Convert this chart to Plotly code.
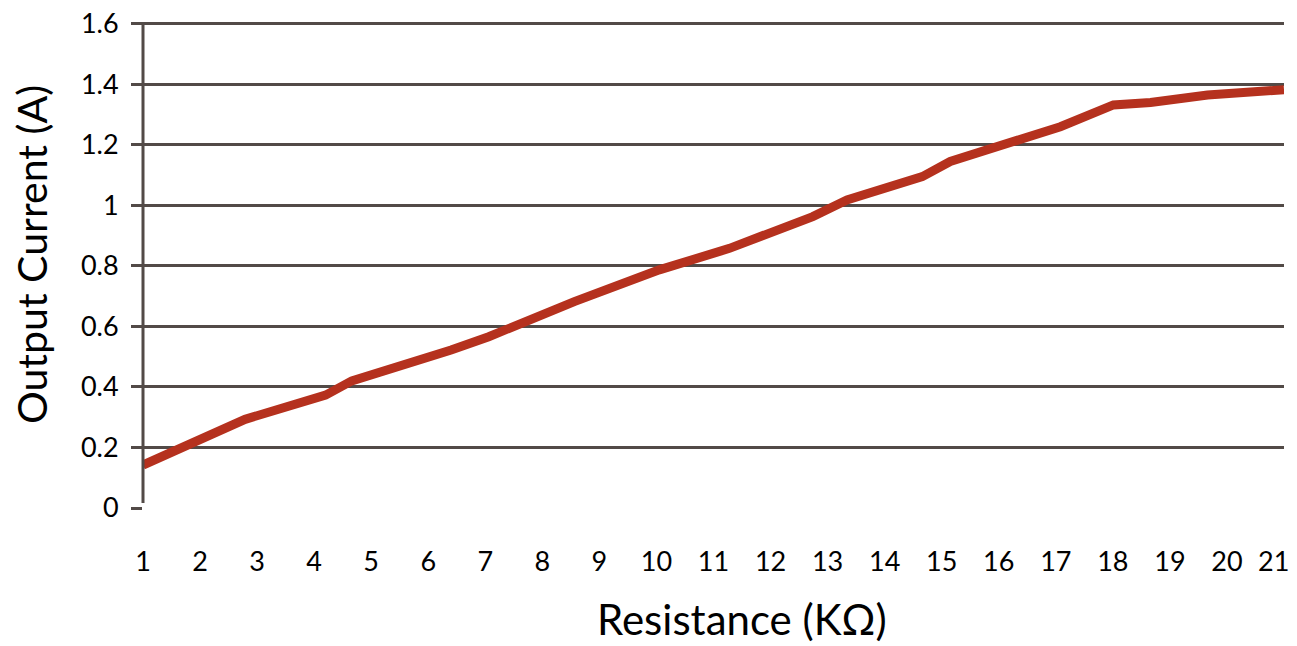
import plotly.graph_objects as go

# Data
resistance_kohm = [1.0, 2.79, 4.2, 4.66, 6.40, 7.06, 8.56, 9.47, 10.05, 11.28,
                   12.74, 13.34, 14.66, 15.15, 16.38, 17.08, 18.01, 18.66, 19.66, 21.0]
output_current_a = [0.142, 0.293, 0.373, 0.420, 0.522, 0.566, 0.682, 0.745, 0.787, 0.858,
                    0.963, 1.018, 1.095, 1.145, 1.219, 1.260, 1.332, 1.340, 1.365, 1.382]

x_tick_values = list(range(1, 22))
x_tick_labels = [str(v) for v in x_tick_values]
x_tick_labels[-1] = x_tick_labels[-1] + "\u00a0\u00a0\u00a0"  # keep last label inside the window
y_tick_values = [0, 0.2, 0.4, 0.6, 0.8, 1.0, 1.2, 1.4, 1.6]
y_tick_labels = ["0", "0.2", "0.4", "0.6", "0.8", "1", "1.2", "1.4", "1.6"]

grid_color = "#524a47"
line_color = "#b5311e"
font_family = "Lato"

W, H = 1297, 646
L, T, R, B = 143, 22, 13, 138
plot_w = W - L - R
plot_h = H - T - B

fig = go.Figure()
fig.add_trace(go.Scatter(
    x=resistance_kohm, y=output_current_a, mode="lines",
    line=dict(color=line_color, width=9), showlegend=False, hoverinfo="skip",
))

fig.update_layout(
    width=W, height=H,
    margin=dict(l=L, r=R, t=T, b=B, autoexpand=False),
    paper_bgcolor="white", plot_bgcolor="white",
    font=dict(family=font_family, color="black"),
    xaxis=dict(
        range=[1, 21], tickvals=x_tick_values, ticktext=x_tick_labels,
        automargin=False, showgrid=False, zeroline=False,
        showline=False, ticks="outside", ticklen=30, tickcolor="rgba(0,0,0,0)",
        ticklabeloverflow="allow",
        tickfont=dict(size=27, family=font_family, color="black"),
    ),
    yaxis=dict(
        range=[0, 1.606], tickvals=y_tick_values, ticktext=y_tick_labels,
        automargin=False,
        showgrid=True, gridcolor=grid_color, gridwidth=3,
        zeroline=False, showline=False,
        ticks="outside", ticklen=11, tickcolor=grid_color, tickwidth=3,
        ticklabelstandoff=7, ticklabeloverflow="allow",
        tickfont=dict(size=27, family=font_family, color="black"),
    ),
    shapes=[dict(type="line", xref="paper", yref="paper", x0=0, x1=0, y0=0.0103, y1=1.0,
                 line=dict(color=grid_color, width=3))],
    annotations=[
        dict(text="Resistance (KΩ)", xref="paper", yref="paper",
             x=(742 - 143) / plot_w, y=(508 - 619) / plot_h,
             xanchor="center", yanchor="middle", showarrow=False,
             font=dict(size=42, family=font_family, color="black")),
        dict(text="Output Current (A)", xref="paper", yref="paper",
             x=(31 - 143) / plot_w, y=(508 - 255) / plot_h, textangle=-90,
             xanchor="center", yanchor="middle", showarrow=False,
             font=dict(size=41, family=font_family, color="black")),
    ],
)

fig.write_html("out.html", config={"displayModeBar": False},
               post_script="document.body.style.margin='0';")
